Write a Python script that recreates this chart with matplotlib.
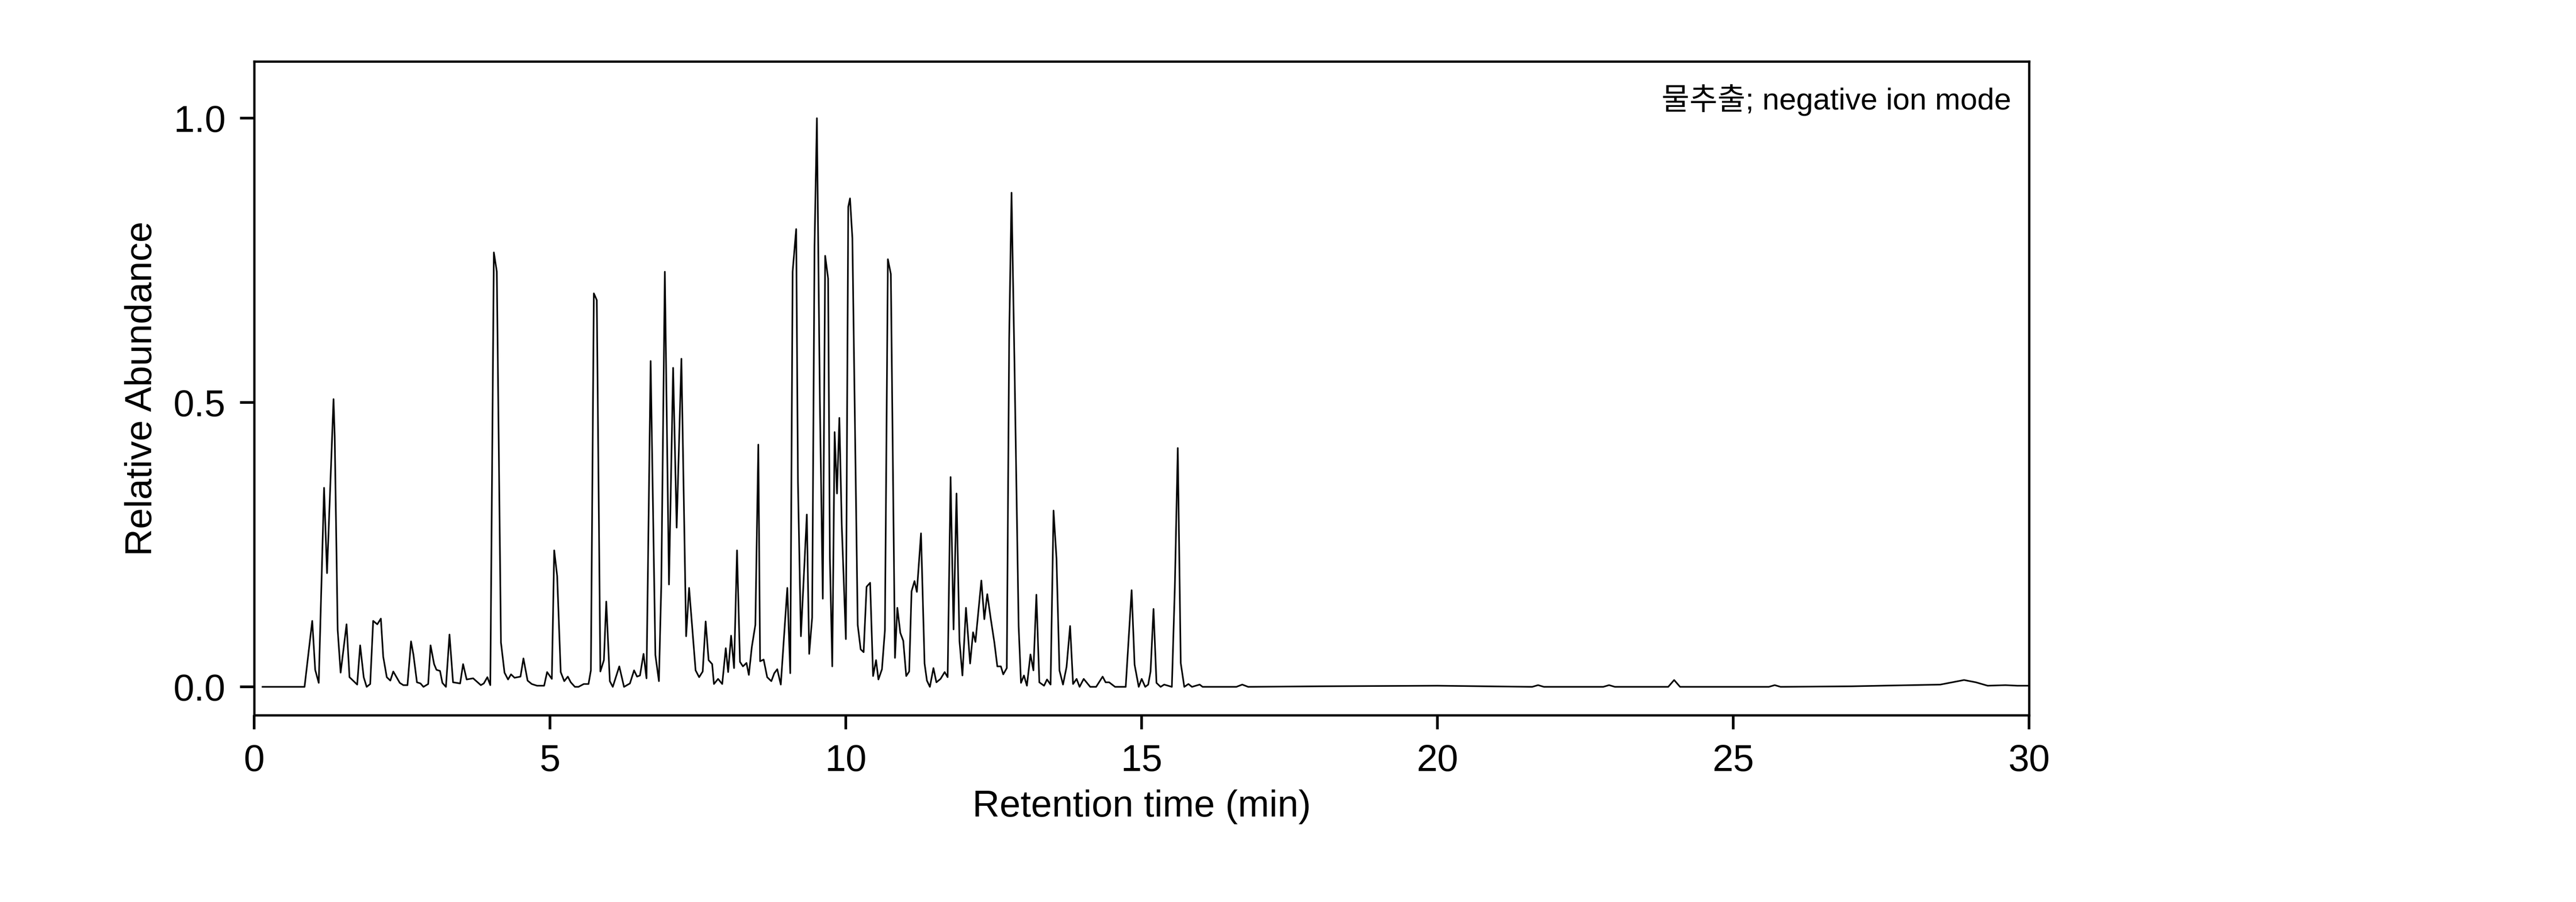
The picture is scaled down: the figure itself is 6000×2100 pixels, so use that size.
import matplotlib
matplotlib.use("Agg")
import matplotlib.pyplot as plt

plt.rcParams['font.family'] = ['Liberation Sans', 'Noto Sans CJK KR', 'DejaVu Sans']

# (retention time [min], relative abundance)
trace = [
    (0.14, 0), (0.85, 0), (0.98, 0.116), (1.03, 0.03), (1.09, 0.007), (1.18, 0.35), (1.23, 0.2), (1.34, 0.506),
    (1.36, 0.44), (1.41, 0.1), (1.46, 0.025), (1.56, 0.11), (1.61, 0.017), (1.74, 0.004), (1.79, 0.073),
    (1.85, 0.017), (1.90, 0), (1.96, 0.005), (2.01, 0.116), (2.08, 0.11), (2.14, 0.12), (2.18, 0.053),
    (2.24, 0.017), (2.30, 0.011), (2.35, 0.027), (2.46, 0.007), (2.52, 0.003), (2.59, 0.003), (2.65, 0.08),
    (2.69, 0.057), (2.75, 0.008), (2.81, 0.006), (2.86, 0), (2.94, 0.005), (2.98, 0.073), (3.04, 0.04),
    (3.08, 0.03), (3.14, 0.028), (3.18, 0.007), (3.24, 0), (3.30, 0.092), (3.36, 0.008), (3.48, 0.006),
    (3.53, 0.04), (3.59, 0.013), (3.70, 0.015), (3.83, 0.003), (3.88, 0.006), (3.94, 0.017), (3.99, 0.003),
    (4.05, 0.764), (4.10, 0.73), (4.17, 0.078), (4.23, 0.025), (4.29, 0.013), (4.34, 0.022), (4.40, 0.016),
    (4.50, 0.018), (4.55, 0.05), (4.62, 0.011), (4.69, 0.005), (4.78, 0.002), (4.90, 0.002), (4.95, 0.026),
    (5.03, 0.014), (5.07, 0.24), (5.12, 0.195), (5.18, 0.026), (5.24, 0.01), (5.30, 0.018), (5.35, 0.008),
    (5.42, 0), (5.48, 0), (5.57, 0.005), (5.65, 0.005), (5.69, 0.029), (5.74, 0.692), (5.79, 0.68),
    (5.85, 0.027), (5.91, 0.047), (5.95, 0.15), (6.01, 0.01), (6.06, 0), (6.17, 0.036), (6.25, 0),
    (6.35, 0.006), (6.42, 0.029), (6.47, 0.018), (6.52, 0.02), (6.58, 0.058), (6.63, 0.015), (6.70, 0.573),
    (6.78, 0.056), (6.84, 0.01), (6.88, 0.18), (6.94, 0.73), (7.01, 0.18), (7.08, 0.561), (7.14, 0.28),
    (7.22, 0.577), (7.30, 0.089), (7.35, 0.174), (7.46, 0.029), (7.52, 0.017), (7.58, 0.027), (7.63, 0.115),
    (7.68, 0.047), (7.74, 0.04), (7.77, 0.005), (7.84, 0.014), (7.91, 0.005), (7.97, 0.068), (8.01, 0.026),
    (8.06, 0.09), (8.11, 0.033), (8.16, 0.24), (8.21, 0.044), (8.26, 0.036), (8.32, 0.042), (8.36, 0.021),
    (8.41, 0.07), (8.47, 0.109), (8.52, 0.426), (8.55, 0.045), (8.61, 0.048), (8.67, 0.017), (8.74, 0.01),
    (8.79, 0.024), (8.84, 0.031), (8.90, 0.004), (9.01, 0.174), (9.06, 0.024), (9.10, 0.73), (9.16, 0.805),
    (9.19, 0.36), (9.24, 0.089), (9.34, 0.303), (9.38, 0.058), (9.43, 0.122), (9.47, 0.774), (9.51, 1.0),
    (9.56, 0.507), (9.61, 0.155), (9.65, 0.758), (9.70, 0.718), (9.73, 0.226), (9.77, 0.036), (9.81, 0.448),
    (9.85, 0.34), (9.89, 0.473), (9.93, 0.285), (10.00, 0.084), (10.04, 0.844), (10.07, 0.859), (10.11, 0.789),
    (10.20, 0.109), (10.25, 0.066), (10.30, 0.061), (10.35, 0.176), (10.41, 0.183), (10.46, 0.019),
    (10.51, 0.047), (10.55, 0.013), (10.61, 0.031), (10.66, 0.1), (10.71, 0.752), (10.76, 0.726),
    (10.83, 0.051), (10.87, 0.139), (10.92, 0.095), (10.97, 0.081), (11.02, 0.019), (11.07, 0.027),
    (11.11, 0.168), (11.16, 0.186), (11.20, 0.167), (11.27, 0.27), (11.33, 0.041), (11.37, 0.011), (11.42, 0),
    (11.48, 0.033), (11.53, 0.008), (11.60, 0.014), (11.67, 0.026), (11.72, 0.017), (11.77, 0.369),
    (11.82, 0.101), (11.87, 0.34), (11.92, 0.081), (11.97, 0.02), (12.03, 0.139), (12.10, 0.041),
    (12.15, 0.096), (12.19, 0.079), (12.23, 0.122), (12.29, 0.187), (12.34, 0.119), (12.39, 0.163),
    (12.45, 0.119), (12.51, 0.078), (12.56, 0.036), (12.62, 0.036), (12.66, 0.022), (12.72, 0.033),
    (12.76, 0.611), (12.80, 0.869), (12.85, 0.567), (12.92, 0.107), (12.96, 0.007), (13.01, 0.02),
    (13.06, 0.002), (13.12, 0.057), (13.17, 0.029), (13.22, 0.162), (13.27, 0.008), (13.35, 0.002),
    (13.40, 0.013), (13.46, 0.004), (13.51, 0.31), (13.56, 0.226), (13.61, 0.029), (13.67, 0.004),
    (13.73, 0.035), (13.79, 0.107), (13.84, 0.005), (13.90, 0.014), (13.95, 0), (14.02, 0.014), (14.13, 0),
    (14.23, 0), (14.34, 0.018), (14.39, 0.008), (14.45, 0.008), (14.55, 0), (14.73, 0), (14.83, 0.17),
    (14.88, 0.039), (14.95, 0), (15.00, 0.014), (15.06, 0), (15.11, 0.004), (15.15, 0.027), (15.20, 0.137),
    (15.25, 0.007), (15.32, 0), (15.38, 0.004), (15.51, 0), (15.56, 0.174), (15.61, 0.42), (15.66, 0.042),
    (15.72, 0), (15.79, 0.005), (15.85, 0), (15.98, 0.004), (16.03, 0), (16.60, 0), (16.70, 0.004),
    (16.80, 0), (18.0, 0.001), (20.0, 0.002), (21.6, 0), (21.7, 0.003), (21.8, 0), (22.8, 0), (22.9, 0.003),
    (23.0, 0), (23.9, 0), (24.0, 0.012), (24.1, 0), (25.6, 0), (25.7, 0.003), (25.8, 0), (27.0, 0.001),
    (28.5, 0.004), (28.7, 0.008), (28.9, 0.012), (29.1, 0.008), (29.3, 0.002), (29.6, 0.003), (29.8, 0.002),
    (30.0, 0.002),
]
time_min = [p[0] for p in trace]
abundance = [p[1] for p in trace]

xticks = [0, 5, 10, 15, 20, 25, 30]
yticks = [0.0, 0.5, 1.0]

fig = plt.figure(figsize=(20, 7), dpi=300)
ax = fig.add_axes([0.0987, 0.207, 0.689, 0.725])
ax.plot(time_min, abundance, color='black', lw=0.9)
ax.set_xlim(0, 30)
ax.set_ylim(-0.05, 1.1)
ax.set_xticks(xticks)
ax.set_yticks(yticks)
ax.set_yticklabels([f"{v:.1f}" for v in yticks])
ax.tick_params(direction='out', length=8, width=1.5, labelsize=21, pad=8)
for s in ax.spines.values():
    s.set_linewidth(1.3)
ax.set_xlabel("Retention time (min)", fontsize=21, labelpad=6)
ax.set_ylabel("Relative Abundance", fontsize=21, labelpad=8)
ax.text(0.99, 0.965, "물추출; negative ion mode", transform=ax.transAxes, ha='right', va='top', fontsize=17)
fig.savefig("out.png", dpi=300)
